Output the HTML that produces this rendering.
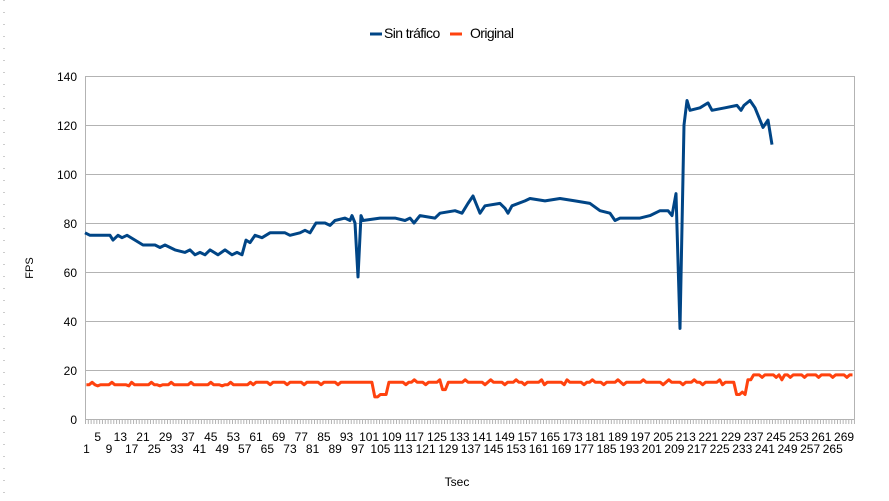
<!DOCTYPE html>
<html><head><meta charset="utf-8"><style>
body{margin:0;background:#fff;}
svg{display:block;font-family:"Liberation Sans",sans-serif;}
</style></head><body>
<svg id="c" width="889" height="501" viewBox="0 0 889 501" xmlns="http://www.w3.org/2000/svg">
<line x1="4" y1="0" x2="4" y2="501" stroke="#ccc" stroke-width="2" stroke-dasharray="1,11"/>
<g stroke="#b3b3b3" stroke-width="1">
<line x1="85" y1="76.5" x2="854" y2="76.5"/>
<line x1="85" y1="125.5" x2="854" y2="125.5"/>
<line x1="85" y1="174.5" x2="854" y2="174.5"/>
<line x1="85" y1="223.5" x2="854" y2="223.5"/>
<line x1="85" y1="272.5" x2="854" y2="272.5"/>
<line x1="85" y1="321.5" x2="854" y2="321.5"/>
<line x1="85" y1="370.5" x2="854" y2="370.5"/>
<line x1="85" y1="419.5" x2="854" y2="419.5"/>
<line x1="85.5" y1="76" x2="85.5" y2="419"/>
<line x1="854.5" y1="76" x2="854.5" y2="419"/>
</g>
<g id="ticks" stroke="#b3b3b3" stroke-width="1"></g>
<g font-size="12" fill="#000" text-anchor="end">
<text x="77" y="81">140</text><text x="77" y="130">120</text><text x="77" y="179">100</text>
<text x="77" y="228">80</text><text x="77" y="277">60</text><text x="77" y="326">40</text>
<text x="77" y="375">20</text><text x="77" y="424">0</text>
</g>
<g id="xl" font-size="12" fill="#000" text-anchor="middle"></g>
<text x="33" y="268" font-size="11" transform="rotate(-90 33 268)" text-anchor="middle">FPS</text>
<text x="457" y="486" font-size="12" text-anchor="middle">Tsec</text>
<line x1="370" y1="34" x2="382" y2="34" stroke="#004586" stroke-width="3"/>
<text x="384" y="38" font-size="14" letter-spacing="-0.6" font-family="'Liberation Sans Narrow','Liberation Sans',sans-serif">Sin tráfico</text>
<line x1="450" y1="34" x2="462" y2="34" stroke="#ff420e" stroke-width="3"/>
<text x="470" y="38" font-size="14" letter-spacing="-0.6" font-family="'Liberation Sans Narrow','Liberation Sans',sans-serif">Original</text>
<polyline id="red" fill="none" stroke="#ff420e" stroke-width="3" stroke-linejoin="round"/>
<polyline id="blue" fill="none" stroke="#004586" stroke-width="3" stroke-linejoin="round"/>
</svg>
<script>
function Y(v){return 419-v*2.45;}
var t=document.getElementById('ticks'),s="";
for(var i=0;i<=272;i++){var x=85.5+i*2.827;s+='<line x1="'+x+'" y1="419" x2="'+x+'" y2="424"/>';}
t.innerHTML=s;
var xl=document.getElementById('xl');s="";
for(var n=1;n<=269;n+=4){var x=85+(n-0.5)*2.827;var up=((n-1)/4)%2==1;s+='<text x="'+x+'" y="'+(up?441:453)+'">'+n+'</text>';}
xl.innerHTML=s;
var bp=[[85,76],[90,75],[110,75],[113,73],[118,75],[122,74],[127,75],[135,73],[143,71],[155,71],[160,70],[165,71],[175,69],[185,68],[190,69],[195,67],[200,68],[205,67],[210,69],[218,67],[225,69],[232,67],[237,68],[242,67],[246,73],[250,72],[255,75],[262,74],[270,76],[285,76],[290,75],[300,76],[305,77],[310,76],[316,80],[325,80],[330,79],[335,81],[345,82],[350,81],[352,83],[355,80],[358,58],[361,83],[363,81],[380,82],[395,82],[405,81],[410,82],[414,80],[420,83],[435,82],[440,84],[455,85],[462,84],[468,88],[473,91],[476,88],[480,84],[485,87],[500,88],[505,86],[508,84],[512,87],[525,89],[530,90],[545,89],[560,90],[575,89],[590,88],[600,85],[610,84],[615,81],[620,82],[640,82],[650,83],[660,85],[668,85],[672,83],[676,92],[680,37],[684,120],[687,130],[690,126],[700,127],[708,129],[712,126],[725,127],[737,128],[741,126],[744,128],[750,130],[755,127],[760,122],[763,119],[768,122],[772,112]];
document.getElementById('blue').setAttribute('points',bp.map(function(p){return p[0]+','+Y(p[1]).toFixed(1)}).join(' '));
var rp=[];
for(var i=1;i<=272;i++){
 var x=85+(i-0.5)*2.827,v;
 if(x<250)v=(i%7==3?15:(i%11==5?13.5:14));
 else if(x<345)v=(i%6==0?14:15);
 else if(x<372)v=15;
 else if(x<380)v=9;
 else if(x<388)v=10;
 else if(x<395)v=15;
 else if(x<735)v=(Math.abs(x-445)<3?12:(i%9==0?16:(i%7==2?14:15)));
 else if(x<741)v=10;
 else if(x<744)v=11;
 else if(x<747)v=10;
 else if(x<752)v=16;
 else v=(i%5==0?17:(i%13==0?16:18));
 rp.push(x.toFixed(1)+','+Y(v).toFixed(1));
}
document.getElementById('red').setAttribute('points',rp.join(' '));
</script>
</body></html>
